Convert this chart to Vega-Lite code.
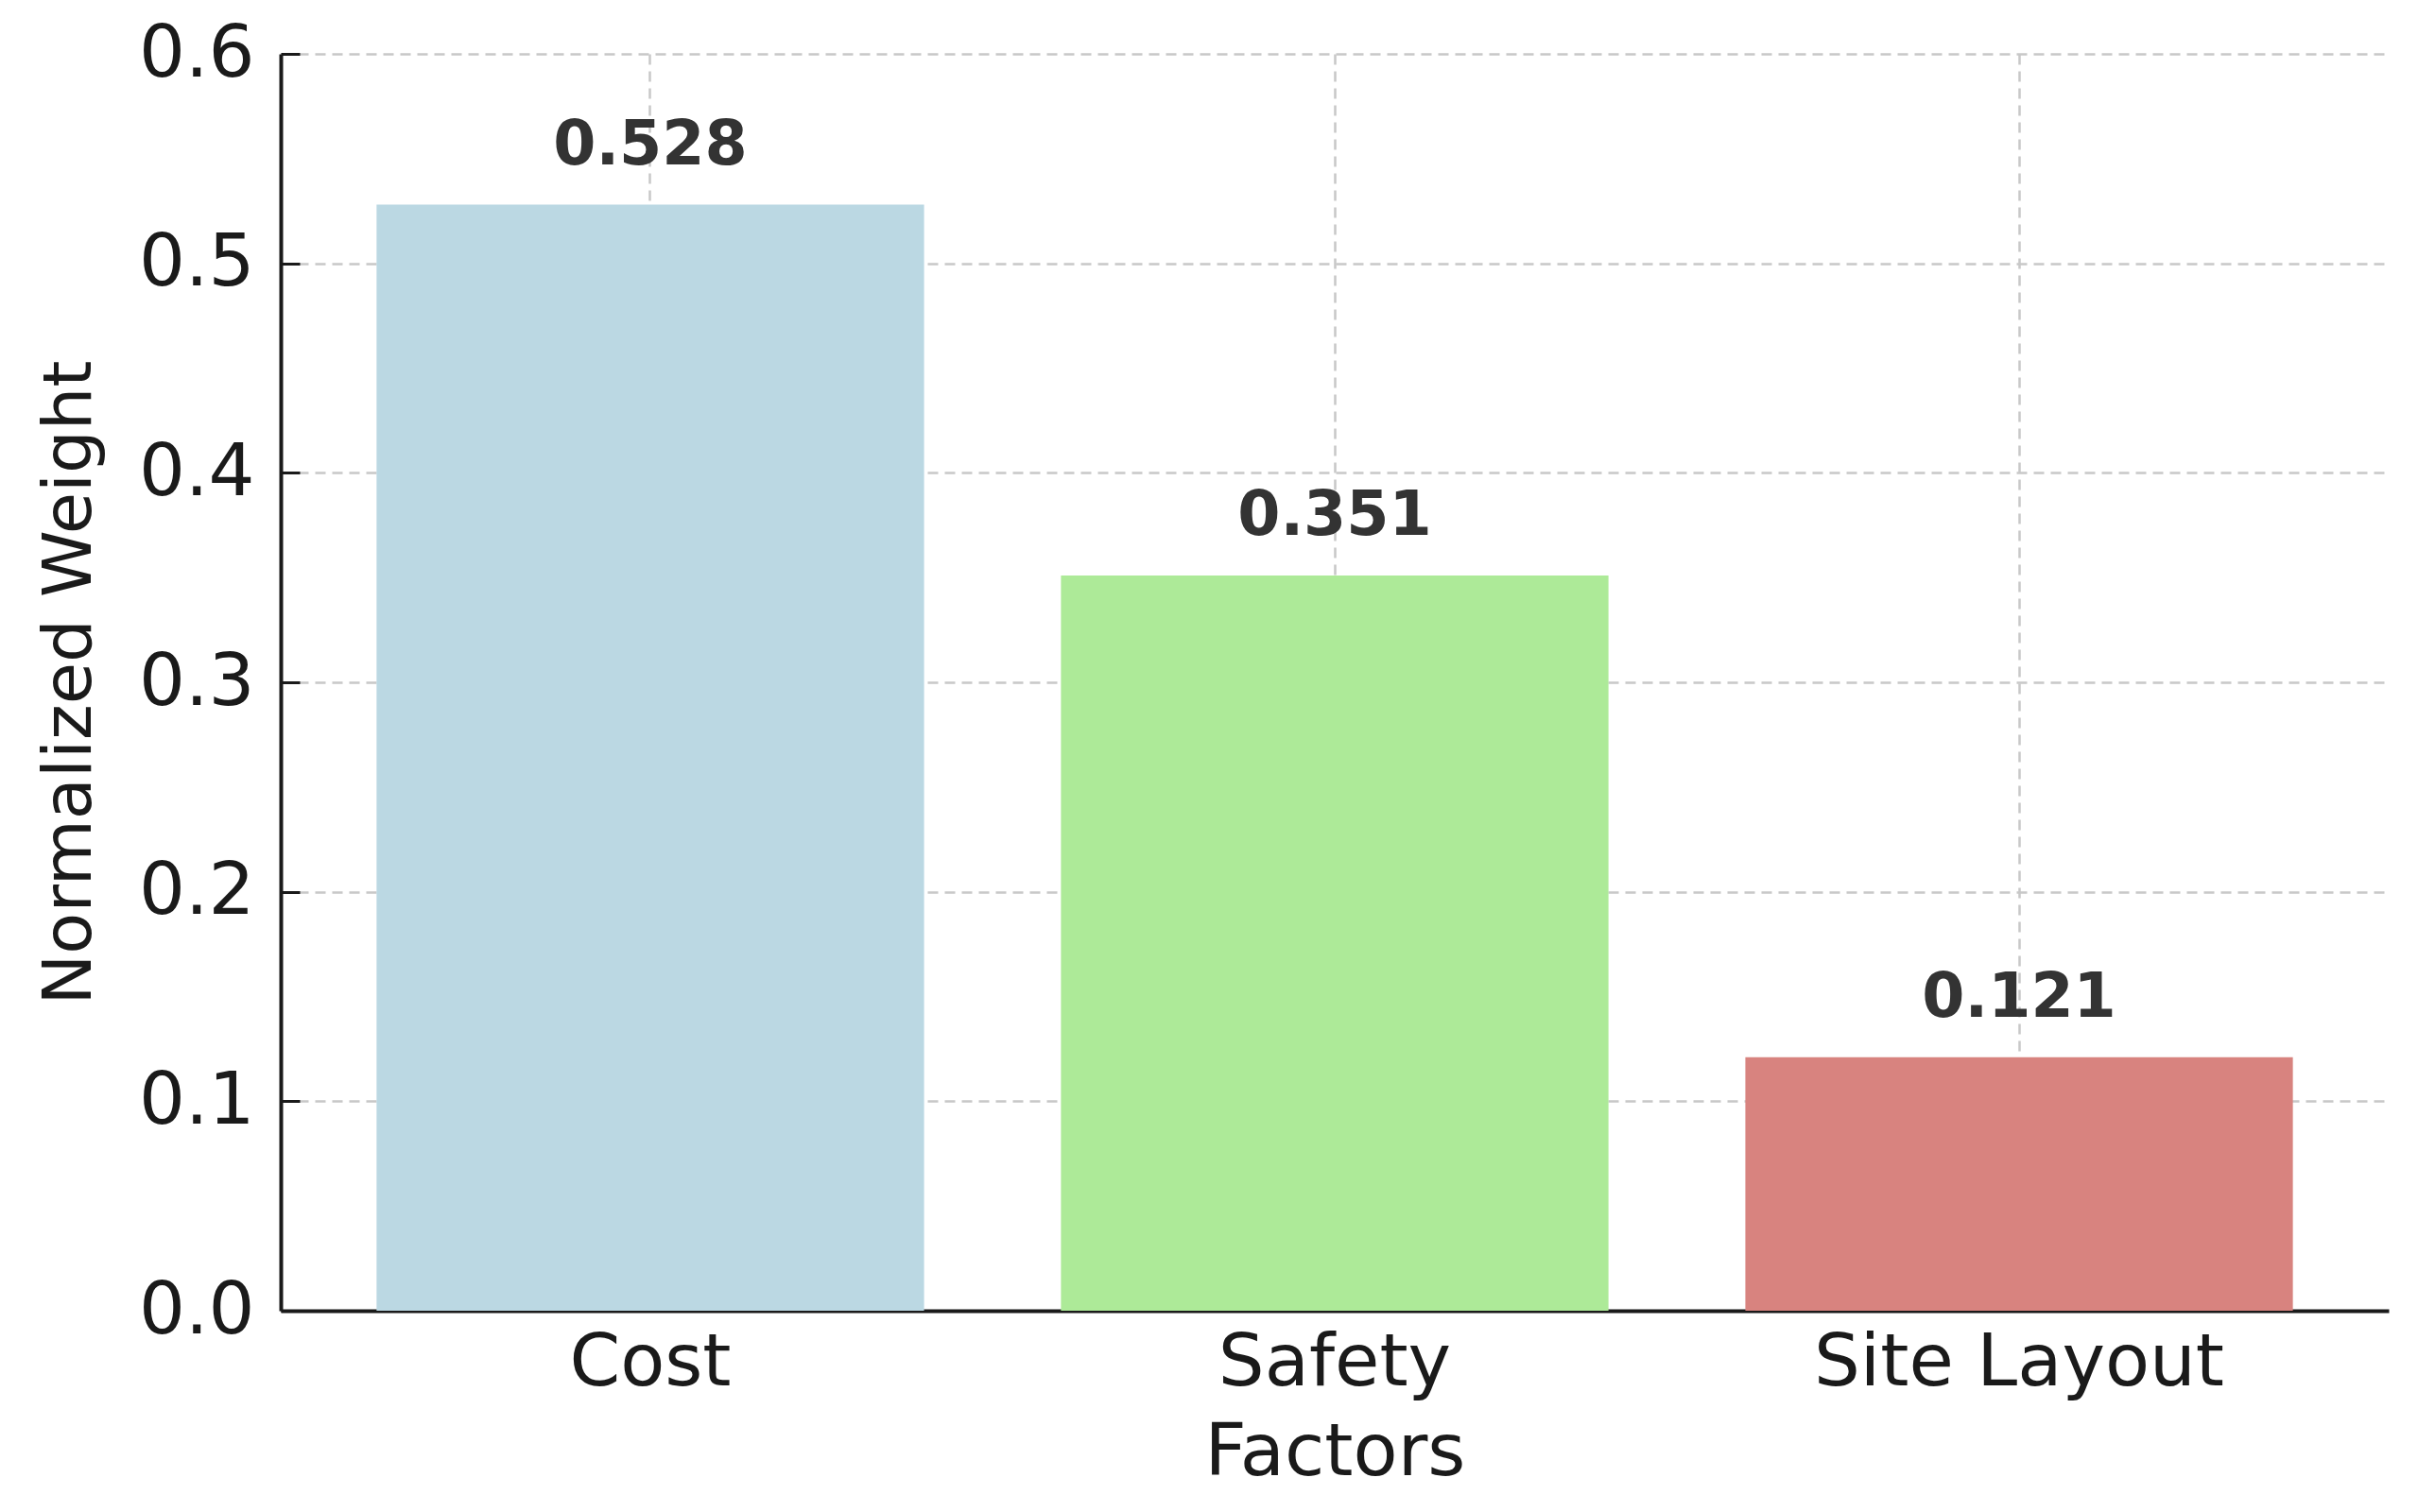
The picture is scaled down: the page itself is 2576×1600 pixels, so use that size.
{
  "$schema": "https://vega.github.io/schema/vega-lite/v6.json",
  "width": 2230,
  "height": 1330,
  "autosize": {"type": "none"},
  "padding": {"left": 297, "top": 57, "right": 49, "bottom": 213},
  "background": "white",
  "config": {
    "view": {"stroke": null},
    "font": "DejaVu Sans",
    "axis": {
      "labelFont": "DejaVu Sans",
      "titleFont": "DejaVu Sans",
      "labelFontSize": 77,
      "titleFontSize": 77,
      "titleFontWeight": "normal",
      "labelColor": "#1a1a1a",
      "titleColor": "#1a1a1a",
      "labelLimit": 2000,
      "domainColor": "#1a1a1a",
      "domainWidth": 4,
      "tickColor": "#1a1a1a",
      "tickWidth": 3,
      "gridColor": "#c8c8c8",
      "gridWidth": 2.5,
      "gridDash": [11, 7],
      "zindex": 1
    }
  },
  "data": {
    "values": [
      {"factor": "Cost", "weight": 0.528, "label": "0.528"},
      {"factor": "Safety", "weight": 0.351, "label": "0.351"},
      {"factor": "Site Layout", "weight": 0.121, "label": "0.121"}
    ]
  },
  "resolve": {"axis": {"x": "independent", "y": "independent"}},
  "layer": [
    {
      "mark": {"type": "bar"},
      "encoding": {
        "x": {
          "field": "factor",
          "type": "nominal",
          "sort": null,
          "scale": {"paddingInner": 0.2, "paddingOuter": 0.14},
          "axis": {
            "orient": "bottom",
            "title": "Factors",
            "labelAngle": 0,
            "grid": true,
            "ticks": false,
            "tickSize": 0,
            "labelPadding": 17,
            "titlePadding": 19,
            "bandPosition": 0.5
          }
        },
        "y": {
          "field": "weight",
          "type": "quantitative",
          "scale": {"domain": [0, 0.6], "nice": false},
          "axis": {
            "orient": "left",
            "title": "Normalized Weight",
            "titleFontSize": 72,
            "values": [0, 0.1, 0.2, 0.3, 0.4, 0.5, 0.6],
            "format": ".1f",
            "grid": true,
            "ticks": false,
            "tickSize": 0,
            "labelPadding": 28,
            "titlePadding": 36
          }
        },
        "color": {
          "field": "factor",
          "type": "nominal",
          "scale": {
            "domain": ["Cost", "Safety", "Site Layout"],
            "range": ["#BBD8E3", "#ADEA98", "#D8837F"]
          },
          "legend": null
        }
      }
    },
    {
      "mark": {
        "type": "text",
        "font": "DejaVu Sans",
        "fontWeight": "bold",
        "fontSize": 65,
        "color": "#333333",
        "baseline": "alphabetic",
        "dy": -43
      },
      "encoding": {
        "x": {
          "field": "factor",
          "type": "nominal",
          "sort": null,
          "axis": {
            "orient": "bottom",
            "title": null,
            "labels": false,
            "domain": false,
            "grid": false,
            "ticks": true,
            "tickSize": 20,
            "offset": -20,
            "bandPosition": 0.5
          }
        },
        "y": {
          "field": "weight",
          "type": "quantitative",
          "axis": {
            "orient": "left",
            "title": null,
            "labels": false,
            "domain": false,
            "grid": false,
            "ticks": true,
            "tickSize": 20,
            "offset": -20,
            "values": [0, 0.1, 0.2, 0.3, 0.4, 0.5, 0.6]
          }
        },
        "text": {"field": "label"}
      }
    }
  ]
}
